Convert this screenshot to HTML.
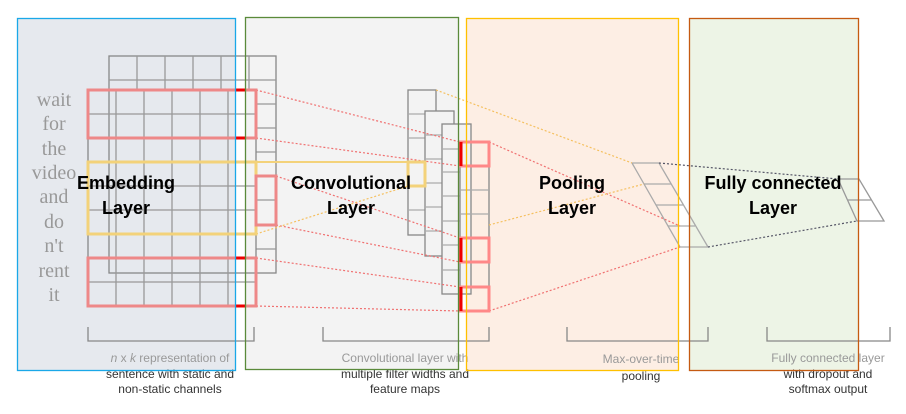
<!DOCTYPE html>
<html><head><meta charset="utf-8"><style>
html,body{margin:0;padding:0;background:#fff;}
svg{display:block;}
</style></head><body>
<svg width="906" height="414" viewBox="0 0 906 414" xmlns="http://www.w3.org/2000/svg">
<!-- layer box backgrounds -->
<rect x="17.5" y="18.5" width="218" height="352" fill="#e6e9ee"/>
<rect x="245.5" y="17.5" width="213" height="352" fill="#f3f3f3"/>
<rect x="466.5" y="18.5" width="212" height="352" fill="#fdeee4"/>
<rect x="689.5" y="18.5" width="169" height="352" fill="#edf4e6"/>
<g fill="none" stroke="#888" stroke-width="1.3">
<rect x="109" y="56" width="167" height="217"/>
<g stroke="#999">
<line x1="109" y1="80" x2="276" y2="80"/>
<line x1="137" y1="56" x2="137" y2="90"/><line x1="165" y1="56" x2="165" y2="90"/><line x1="193" y1="56" x2="193" y2="90"/><line x1="221" y1="56" x2="221" y2="90"/><line x1="249" y1="56" x2="249" y2="90"/>
<line x1="256" y1="104" x2="276" y2="104"/><line x1="256" y1="128" x2="276" y2="128"/><line x1="256" y1="152" x2="276" y2="152"/><line x1="256" y1="176" x2="276" y2="176"/><line x1="256" y1="200" x2="276" y2="200"/><line x1="256" y1="225" x2="276" y2="225"/><line x1="256" y1="249" x2="276" y2="249"/>
</g>
<rect x="88" y="90" width="168" height="216"/>
<g stroke="#999">
<line x1="116" y1="90" x2="116" y2="306"/><line x1="144" y1="90" x2="144" y2="306"/><line x1="172" y1="90" x2="172" y2="306"/><line x1="200" y1="90" x2="200" y2="306"/><line x1="228" y1="90" x2="228" y2="306"/>
<line x1="88" y1="114" x2="256" y2="114"/><line x1="88" y1="138" x2="256" y2="138"/><line x1="88" y1="162" x2="256" y2="162"/><line x1="88" y1="186" x2="256" y2="186"/><line x1="88" y1="210" x2="256" y2="210"/><line x1="88" y1="234" x2="256" y2="234"/><line x1="88" y1="258" x2="256" y2="258"/><line x1="88" y1="282" x2="256" y2="282"/>
</g>
<rect x="408" y="90" width="28" height="145" fill="#f3f3f3"/>
<g stroke="#aaa"><line x1="408" y1="114" x2="425" y2="114"/><line x1="408" y1="138" x2="425" y2="138"/><line x1="408" y1="210" x2="425" y2="210"/></g>
<rect x="425" y="111" width="29" height="145" fill="#f3f3f3"/>
<g stroke="#aaa"><line x1="425" y1="135" x2="442" y2="135"/><line x1="425" y1="159" x2="442" y2="159"/><line x1="425" y1="183" x2="442" y2="183"/><line x1="425" y1="207" x2="442" y2="207"/><line x1="425" y1="231" x2="442" y2="231"/></g>
<rect x="442" y="124" width="29" height="170" fill="#f3f3f3"/>
<g stroke="#aaa"><line x1="442" y1="149" x2="460" y2="149"/><line x1="442" y1="172" x2="460" y2="172"/><line x1="442" y1="196" x2="460" y2="196"/><line x1="442" y1="221" x2="460" y2="221"/><line x1="442" y1="245" x2="460" y2="245"/><line x1="442" y1="270" x2="460" y2="270"/></g>
<rect x="460" y="142" width="29" height="169"/>
<g stroke="#aaa"><line x1="460" y1="190" x2="489" y2="190"/><line x1="460" y1="214" x2="489" y2="214"/></g>
<g stroke="#aaa"><polygon points="632,163 659,163 708,247 680,247"/>
<line x1="644" y1="184" x2="671" y2="184"/><line x1="656" y1="205" x2="683" y2="205"/><line x1="668" y1="226" x2="695" y2="226"/></g>
<g stroke="#999"><polygon points="838,179 859,179 884,221 857,221"/><line x1="848" y1="200" x2="871" y2="200"/></g>
<g stroke="#888"><polyline points="88,327 88,341 254,341 254,327"/><polyline points="323,327 323,341 489,341 489,327"/><polyline points="567,327 567,341 708,341 708,327"/><polyline points="767,327 767,341 890,341 890,327"/></g>
</g>
<g fill="none" stroke-width="1.2" stroke-dasharray="2,2">
<g stroke="#f07070"><line x1="256" y1="90" x2="460" y2="142"/><line x1="256" y1="138" x2="460" y2="166"/><line x1="276" y1="176" x2="460" y2="238"/><line x1="276" y1="225" x2="460" y2="262"/><line x1="256" y1="258" x2="460" y2="287"/><line x1="256" y1="306" x2="460" y2="311"/><line x1="489" y1="142" x2="680" y2="226"/><line x1="489" y1="311" x2="680" y2="247"/></g>
<g stroke="#f5c060"><line x1="436" y1="90" x2="632" y2="163"/><line x1="489" y1="225" x2="644" y2="184"/><line x1="256" y1="234" x2="408" y2="186"/></g>
<g stroke="#556"><line x1="659" y1="163" x2="838" y2="179"/><line x1="708" y1="247" x2="857" y2="221"/></g>
</g>
<g fill="none" stroke-width="3">
<rect x="88" y="90" width="168" height="48" stroke="#e88"/>
<rect x="88" y="258" width="168" height="48" stroke="#e88"/>
<rect x="88" y="162" width="168" height="72" stroke="#f3d27a"/>
<line x1="256" y1="162" x2="408" y2="162" stroke="#f3d27a" stroke-width="2"/>
<rect x="256" y="176" width="20" height="49" stroke="#e88"/>
<rect x="408" y="162" width="17" height="24" stroke="#f3d27a"/>
<rect x="460" y="142" width="29" height="24" stroke="#f88"/>
<rect x="460" y="238" width="29" height="24" stroke="#f88"/>
<rect x="460" y="287" width="29" height="24" stroke="#f88"/>
</g>
<g stroke="#e00" stroke-width="3"><line x1="236" y1="90" x2="245" y2="90"/><line x1="236" y1="138" x2="245" y2="138"/><line x1="236" y1="258" x2="245" y2="258"/><line x1="236" y1="306" x2="245" y2="306"/>
<line x1="461" y1="142" x2="461" y2="166"/><line x1="461" y1="238" x2="461" y2="262"/><line x1="461" y1="287" x2="461" y2="311"/></g>
<g font-family="Liberation Serif, serif" font-size="20" fill="#999" text-anchor="middle">
<text x="54" y="106">wait</text><text x="54" y="130">for</text><text x="54" y="155">the</text><text x="54" y="179">video</text><text x="54" y="203">and</text><text x="54" y="228">do</text><text x="54" y="252">n't</text><text x="54" y="277">rent</text><text x="54" y="301">it</text>
</g>
<g font-family="Liberation Sans, sans-serif" font-size="12" fill="#333" text-anchor="middle">
<text x="170" y="362" fill="#999"><tspan font-style="italic">n</tspan> x <tspan font-style="italic">k</tspan> representation of</text>
<text x="170" y="378">sentence with static and</text><text x="170" y="393">non-static channels</text>
<text x="405" y="362" fill="#999">Convolutional layer with</text><text x="405" y="378">multiple filter widths and</text><text x="405" y="393">feature maps</text>
<text x="641" y="363" fill="#999">Max-over-time</text><text x="641" y="380">pooling</text>
<text x="828" y="362" fill="#999">Fully connected layer</text><text x="828" y="378">with dropout and</text><text x="828" y="393">softmax output</text>
</g>
<g fill="none" stroke-width="1.3">
<rect x="17.5" y="18.5" width="218" height="352" stroke="#1aa8e8"/>
<rect x="245.5" y="17.5" width="213" height="352" stroke="#5a8a3a"/>
<rect x="466.5" y="18.5" width="212" height="352" stroke="#ffc000"/>
<rect x="689.5" y="18.5" width="169" height="352" stroke="#c55a11"/>
</g>
<g font-family="Liberation Sans, sans-serif" font-size="18" font-weight="bold" fill="#000" text-anchor="middle">
<text x="126" y="189">Embedding</text><text x="126" y="214">Layer</text>
<text x="351" y="189">Convolutional</text><text x="351" y="214">Layer</text>
<text x="572" y="189">Pooling</text><text x="572" y="214">Layer</text>
<text x="773" y="189">Fully connected</text><text x="773" y="214">Layer</text>
</g>
</svg>
</body></html>
